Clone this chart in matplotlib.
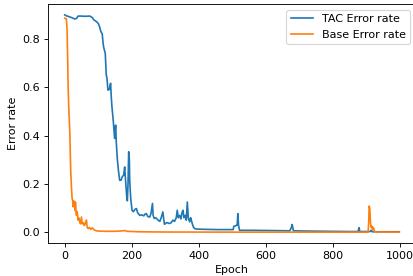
from matplotlib import pyplot as plt

# values (epoch, error rate)
tac_epoch = [0, 5, 10, 18, 25, 30, 35, 40, 50, 60, 75, 82, 87, 92, 100, 104, 108, 112,
             114, 116, 119, 121, 122, 124, 126, 129, 133, 137, 139, 141, 145, 149, 152,
             154, 157, 160, 164, 168, 172, 176, 179, 182, 185, 187, 189, 191, 193, 194,
             197, 201, 205, 210, 214, 218, 224, 230, 236, 240, 244, 248, 254, 258, 262,
             264, 267, 272, 279, 284, 288, 293, 296, 298, 305, 313, 318, 323, 328, 333,
             336, 339, 343, 347, 350, 353, 356, 360, 363, 366, 369, 373, 376, 378, 382,
             385, 388, 395, 420, 460, 503, 505, 510, 513, 515, 517, 519, 522, 560, 620,
             672, 677, 679, 681, 683, 720, 780, 850, 876, 878, 879, 881, 912, 915, 918,
             950, 999]
tac_err = [0.899, 0.895, 0.893, 0.889, 0.885, 0.882, 0.884, 0.894, 0.894, 0.893, 0.894,
           0.888, 0.878, 0.874, 0.864, 0.85, 0.83, 0.82, 0.79, 0.767, 0.75, 0.74, 0.712,
           0.65, 0.64, 0.588, 0.59, 0.616, 0.56, 0.519, 0.46, 0.388, 0.443, 0.37, 0.305,
           0.26, 0.215, 0.215, 0.23, 0.236, 0.27, 0.208, 0.15, 0.13, 0.2, 0.333, 0.3,
           0.215, 0.14, 0.091, 0.085, 0.095, 0.098, 0.08, 0.07, 0.072, 0.068, 0.075,
           0.077, 0.065, 0.063, 0.08, 0.119, 0.07, 0.057, 0.06, 0.05, 0.045, 0.06, 0.084,
           0.05, 0.033, 0.04, 0.036, 0.04, 0.05, 0.045, 0.06, 0.091, 0.06, 0.07, 0.055,
           0.08, 0.091, 0.06, 0.07, 0.05, 0.125, 0.06, 0.043, 0.06, 0.05, 0.03, 0.02,
           0.015, 0.013, 0.012, 0.011, 0.011, 0.025, 0.026, 0.029, 0.03, 0.077, 0.029,
           0.008, 0.008, 0.007, 0.006, 0.02, 0.032, 0.02, 0.006, 0.005, 0.004, 0.003,
           0.003, 0.015, 0.019, 0.003, 0.003, 0.008, 0.002, 0.002, 0.002]

base_epoch = [0, 3, 5, 7, 9, 10, 12, 15, 17, 18, 20, 22, 24, 25, 27, 29, 31, 32, 34, 35,
              37, 40, 42, 45, 47, 50, 52, 55, 58, 60, 63, 65, 67, 70, 74, 78, 82, 85, 88,
              90, 95, 100, 120, 150, 175, 180, 185, 220, 300, 500, 906, 908, 909, 911,
              913, 915, 917, 919, 921, 923, 925, 930, 999]
base_err = [0.885, 0.884, 0.882, 0.84, 0.7, 0.61, 0.52, 0.42, 0.3, 0.25, 0.188, 0.14,
            0.13, 0.105, 0.13, 0.12, 0.09, 0.125, 0.08, 0.07, 0.085, 0.05, 0.06, 0.043,
            0.035, 0.063, 0.035, 0.04, 0.028, 0.03, 0.045, 0.05, 0.02, 0.015, 0.02, 0.012,
            0.018, 0.015, 0.01, 0.008, 0.006, 0.005, 0.004, 0.004, 0.006, 0.007, 0.004,
            0.002, 0.001, 0.0005, 0.0005, 0.05, 0.108, 0.1, 0.04, 0.02, 0.025, 0.01, 0.02,
            0.015, 0.003, 0.001, 0.0005]

dpi = 80
fig = plt.figure(figsize=(413 / dpi, 276 / dpi), dpi=dpi)
ax = fig.add_axes([48 / 413, 33 / 276, 368 / 413, 239 / 276])
ax.plot(tac_epoch, tac_err, label="TAC Error rate")
ax.plot(base_epoch, base_err, label="Base Error rate")
ax.set_xlabel("Epoch")
ax.set_ylabel("Error rate")
ax.legend(loc="upper right")
fig.savefig("out.png", dpi=dpi)
